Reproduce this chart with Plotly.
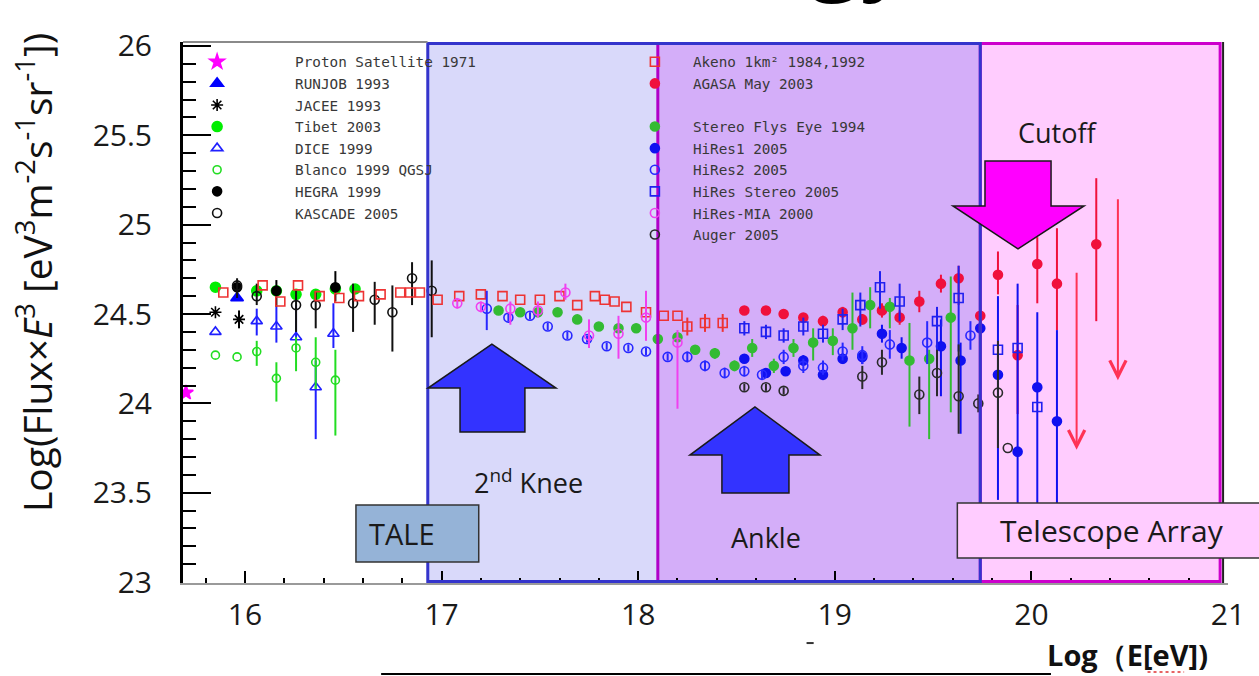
import plotly.graph_objects as go

# ---------------- measurements: x = log10(E/eV), y = log10(flux x E^3) ----------------
proton_x = [15.70]
proton_y = [24.06]

runjob_x = [15.96]
runjob_y = [24.59]

jacee_x = [15.85, 15.97]
jacee_y = [24.51, 24.47]
jacee_up = [0.0, 0.05]
jacee_dn = [0.0, 0.05]

tibet_x = [15.85, 16.06, 16.16, 16.26, 16.36, 16.46, 16.56]
tibet_y = [24.65, 24.63, 24.63, 24.61, 24.61, 24.64, 24.64]

dice_x = [15.85, 16.06, 16.16, 16.26, 16.36, 16.45]
dice_y = [24.40, 24.46, 24.43, 24.37, 24.09, 24.39]
dice_up = [0.0, 0.07, 0.11, 0.18, 0.15, 0.17]
dice_dn = [0.0, 0.08, 0.09, 0.07, 0.29, 0.08]

blanco_x = [15.85, 15.96, 16.06, 16.16, 16.26, 16.36, 16.46]
blanco_y = [24.27, 24.26, 24.29, 24.14, 24.31, 24.23, 24.13]
blanco_up = [0.0, 0.0, 0.06, 0.09, 0.06, 0.14, 0.17]
blanco_dn = [0.0, 0.0, 0.08, 0.13, 0.13, 0.15, 0.31]

hegra_x = [15.96, 16.16, 16.46]
hegra_y = [24.65, 24.63, 24.65]
hegra_up = [0.04, 0.06, 0.09]
hegra_dn = [0.04, 0.09, 0.08]

kascade_x = [15.96, 16.06, 16.26, 16.36, 16.55, 16.66, 16.75, 16.85, 16.95]
kascade_y = [24.66, 24.60, 24.55, 24.55, 24.56, 24.58, 24.51, 24.70, 24.63]
kascade_up = [0.04, 0.07, 0.08, 0.08, 0.11, 0.10, 0.15, 0.09, 0.17]
kascade_dn = [0.07, 0.05, 0.15, 0.13, 0.16, 0.14, 0.22, 0.15, 0.26]

akeno_x = [15.89, 16.09, 16.18, 16.27, 16.38, 16.48, 16.58, 16.69, 16.79, 16.84, 16.89,
           16.98, 17.09, 17.20, 17.31, 17.40, 17.50, 17.60, 17.69, 17.78, 17.83, 17.88,
           17.94, 18.04, 18.13, 18.20, 18.25, 18.34, 18.43]
akeno_y = [24.62, 24.66, 24.57, 24.66, 24.60, 24.59, 24.60, 24.61, 24.62, 24.62, 24.62,
           24.58, 24.60, 24.61, 24.60, 24.58, 24.58, 24.60, 24.55, 24.60, 24.58, 24.57,
           24.54, 24.51, 24.49, 24.49, 24.43, 24.45, 24.45]
akeno_err = [0.0] * 26 + [0.05, 0.05, 0.05]

agasa_x = [18.54, 18.65, 18.74, 18.84, 18.94, 19.04, 19.14, 19.24, 19.33, 19.43, 19.54,
           19.63, 19.74, 19.83, 19.93, 20.03, 20.13, 20.33]
agasa_y = [24.52, 24.52, 24.50, 24.48, 24.46, 24.51, 24.47, 24.52, 24.48, 24.57, 24.67,
           24.70, 24.49, 24.72, 24.27, 24.78, 24.67, 24.89]
agasa_up = [0.02, 0.02, 0.02, 0.02, 0.03, 0.03, 0.03, 0.04, 0.04, 0.06, 0.05,
            0.07, 0.06, 0.13, 0.28, 0.15, 0.31, 0.37]
agasa_dn = [0.02, 0.02, 0.02, 0.02, 0.03, 0.03, 0.03, 0.04, 0.04, 0.06, 0.05,
            0.15, 0.06, 0.11, 0.33, 0.22, 0.26, 0.43]
# AGASA 90% upper limits (bar top -> arrow tip)
agasa_ul_x = [20.23, 20.44]
agasa_ul_top = [24.74, 25.15]
agasa_ul_tip = [23.74, 24.13]

fly_x = [17.29, 17.40, 17.49, 17.59, 17.69, 17.80, 17.90, 17.99, 18.10, 18.20, 18.29, 18.39,
         18.49, 18.58, 18.69, 18.79, 18.89, 18.99, 19.09, 19.18, 19.28, 19.38, 19.48, 19.59]
fly_y = [24.52, 24.51, 24.51, 24.51, 24.47, 24.43, 24.42, 24.42, 24.36, 24.37, 24.30, 24.28,
         24.21, 24.31, 24.21, 24.31, 24.34, 24.35, 24.42, 24.55, 24.54, 24.24, 24.25, 24.48]
fly_up = [0.01, 0.01, 0.01, 0.01, 0.01, 0.01, 0.01, 0.01, 0.02, 0.02, 0.02, 0.03,
          0.03, 0.05, 0.04, 0.05, 0.08, 0.07, 0.20, 0.10, 0.05, 0.21, 0.05, 0.23]
fly_dn = [0.01, 0.01, 0.01, 0.01, 0.01, 0.01, 0.01, 0.01, 0.02, 0.02, 0.02, 0.03,
          0.03, 0.05, 0.04, 0.05, 0.10, 0.08, 0.12, 0.13, 0.12, 0.37, 0.45, 0.53]

hires1_x = [18.54, 18.65, 18.75, 18.84, 18.94, 19.04, 19.14, 19.24, 19.34, 19.54, 19.64,
            19.74, 19.83, 19.93, 20.03, 20.13]
hires1_y = [24.25, 24.17, 24.18, 24.24, 24.16, 24.25, 24.26, 24.39, 24.31, 24.32, 24.24,
            24.42, 24.16, 23.73, 24.09, 23.90]
hires1_up = [0.02, 0.02, 0.02, 0.03, 0.03, 0.03, 0.04, 0.05, 0.06, 0.15, 0.10,
             0.05, 0.44, 0.94, 0.42, 0.51]
hires1_dn = [0.02, 0.02, 0.02, 0.03, 0.03, 0.03, 0.04, 0.05, 0.06, 0.28, 0.41,
             0.40, 0.70, 0.33, 0.69, 0.50]

hires2_x = [17.23, 17.34, 17.45, 17.54, 17.64, 17.74, 17.84, 17.95, 18.04, 18.15, 18.25, 18.34,
            18.44, 18.54, 18.63, 18.74, 18.84, 18.94, 19.04, 19.14, 19.28, 19.47, 19.69]
hires2_y = [24.53, 24.48, 24.49, 24.43, 24.38, 24.36, 24.32, 24.31, 24.29, 24.26, 24.26, 24.21,
            24.17, 24.18, 24.16, 24.26, 24.21, 24.20, 24.29, 24.27, 24.33, 24.34, 24.38]
hires2_up = [0.10, 0.02, 0.02, 0.02, 0.02, 0.02, 0.02, 0.02, 0.02, 0.02, 0.03, 0.03,
             0.03, 0.03, 0.03, 0.04, 0.04, 0.04, 0.05, 0.05, 0.08, 0.12, 0.08]
hires2_dn = [0.12, 0.02, 0.02, 0.02, 0.02, 0.02, 0.02, 0.02, 0.02, 0.02, 0.03, 0.03,
             0.03, 0.03, 0.03, 0.04, 0.04, 0.04, 0.05, 0.05, 0.08, 0.12, 0.08]

stereo_x = [18.54, 18.65, 18.74, 18.84, 18.94, 19.04, 19.13, 19.23, 19.33, 19.52, 19.63,
            19.83, 19.93, 20.03]
stereo_y = [24.42, 24.40, 24.38, 24.43, 24.39, 24.47, 24.55, 24.65, 24.57, 24.46, 24.59,
            24.30, 24.31, 23.98]
stereo_up = [0.04, 0.04, 0.04, 0.05, 0.05, 0.06, 0.07, 0.09, 0.10, 0.08, 0.18, 0.0, 0.0, 0.0]
stereo_dn = [0.04, 0.04, 0.04, 0.05, 0.05, 0.06, 0.12, 0.12, 0.11, 0.30, 0.30, 0.0, 0.0, 0.0]

mia_x = [17.08, 17.20, 17.35, 17.49, 17.63, 17.75, 17.90, 18.04, 18.20]
mia_y = [24.56, 24.54, 24.53, 24.52, 24.62, 24.38, 24.39, 24.48, 24.34]
mia_up = [0.03, 0.03, 0.04, 0.05, 0.05, 0.09, 0.10, 0.15, 0.07]
mia_dn = [0.03, 0.03, 0.09, 0.04, 0.04, 0.07, 0.14, 0.13, 0.37]

auger_x = [18.54, 18.65, 18.74, 19.14, 19.24, 19.43, 19.52, 19.63, 19.73, 19.83, 19.88]
auger_y = [24.09, 24.09, 24.07, 24.15, 24.23, 24.05, 24.17, 24.04, 24.00, 24.06, 23.75]
auger_up = [0.02, 0.02, 0.02, 0.06, 0.07, 0.10, 0.13, 0.29, 0.05, 0.29, 0.0]
auger_dn = [0.02, 0.02, 0.02, 0.07, 0.07, 0.11, 0.13, 0.21, 0.05, 0.31, 0.0]

x_ticks = [16, 17, 18, 19, 20, 21]

# energy regions: (start, end) in log10(E/eV)
tale_band = (16.93, 18.10)
ankle_band = (18.10, 19.74)
ta_band = (19.74, 20.96)
frame_right = 20.975

fig = go.Figure()


def add_series(name, x, y, color, symbol, size, legend, up=None, dn=None, lw=1.6):
    err = None
    if up is not None:
        err = dict(type="data", array=up, arrayminus=dn, visible=True,
                   color=color, thickness=2, width=0)
    fig.add_trace(go.Scatter(
        x=x, y=y, mode="markers", name=name, legend=legend,
        marker=dict(symbol=symbol, size=size, color=color,
                    line=dict(color=color, width=lw)),
        error_y=err, cliponaxis=True, hoverinfo="x+y+name"))


# left legend column
add_series("Proton Satellite 1971", proton_x, proton_y, "#FF00FF", "star", 11, "legend")
add_series("RUNJOB 1993", runjob_x, runjob_y, "#0000FF", "triangle-up", 11, "legend")
add_series("JACEE 1993", jacee_x, jacee_y, "#000000", "asterisk-open", 10, "legend",
           jacee_up, jacee_dn)
add_series("Tibet 2003", tibet_x, tibet_y, "#00EE00", "circle", 10, "legend")
add_series("DICE 1999", dice_x, dice_y, "#2020FF", "triangle-up-open", 10, "legend",
           dice_up, dice_dn)
add_series("Blanco 1999 QGSJ", blanco_x, blanco_y, "#22DD22", "circle-open", 8, "legend",
           blanco_up, blanco_dn)
add_series("HEGRA 1999", hegra_x, hegra_y, "#000000", "circle", 9, "legend",
           hegra_up, hegra_dn)
add_series("KASCADE 2005", kascade_x, kascade_y, "#111111", "circle-open", 9, "legend",
           kascade_up, kascade_dn)

# right legend column
add_series("Akeno 1km² 1984,1992", akeno_x, akeno_y, "#EE3333", "square-open", 9, "legend2",
           akeno_err, akeno_err)
add_series("AGASA May 2003", agasa_x, agasa_y, "#F0103C", "circle", 9, "legend2",
           agasa_up, agasa_dn)
fig.add_trace(go.Scatter(x=[None], y=[None], mode="markers", name=" ", legend="legend2",
                         marker=dict(color="rgba(0,0,0,0)", size=1), hoverinfo="skip"))
add_series("Stereo Flys Eye 1994", fly_x, fly_y, "#33BB33", "circle", 9, "legend2",
           fly_up, fly_dn)
add_series("HiRes1 2005", hires1_x, hires1_y, "#1010F0", "circle", 9, "legend2",
           hires1_up, hires1_dn)
add_series("HiRes2 2005", hires2_x, hires2_y, "#2828FF", "circle-open", 9, "legend2",
           hires2_up, hires2_dn)
add_series("HiRes Stereo 2005", stereo_x, stereo_y, "#2020F0", "square-open", 9, "legend2",
           stereo_up, stereo_dn)
add_series("HiRes-MIA 2000", mia_x, mia_y, "#F040F0", "circle-open", 9, "legend2",
           mia_up, mia_dn)
add_series("Auger 2005", auger_x, auger_y, "#2a2a2a", "circle-open", 9, "legend2",
           auger_up, auger_dn)

# AGASA upper limits drawn as downward arrows
for ux, top, tip in zip(agasa_ul_x, agasa_ul_top, agasa_ul_tip):
    fig.add_annotation(x=ux, y=tip, ax=ux, ay=top, xref="x", yref="y", axref="x", ayref="y",
                       showarrow=True, arrowhead=5, arrowsize=1.6, arrowwidth=2,
                       arrowcolor="#FF3355", text="", standoff=0)

# ---------------- shaded energy regions ----------------
band_style = [
    (tale_band, "#D9D9FA"),
    (ankle_band, "#D4AEF9"),
    (ta_band, "#FFCCFE"),
]
for (x0, x1), fill in band_style:
    fig.add_shape(type="rect", xref="x", yref="paper", x0=x0, x1=x1, y0=0, y1=1,
                  fillcolor=fill, line=dict(width=0), layer="below")

fig.add_shape(type="rect", xref="x", yref="paper", x0=ta_band[0], x1=ta_band[1],
              y0=0.003, y1=0.997, line=dict(color="#CC00CC", width=3), layer="above")
fig.add_shape(type="line", xref="x", yref="paper", x0=ankle_band[0], x1=ankle_band[0],
              y0=0.003, y1=0.997, line=dict(color="#B000C8", width=3), layer="above")
fig.add_shape(type="rect", xref="x", yref="paper", x0=tale_band[0], x1=ankle_band[1],
              y0=0.003, y1=0.997, line=dict(color="#3434CC", width=3), layer="above")

# frame pieces of the original plot
fig.add_shape(type="line", xref="paper", yref="paper", x0=0, x1=0.234, y0=1, y1=1,
              line=dict(color="#8a8a8a", width=2))
fig.add_shape(type="line", xref="x", yref="paper", x0=frame_right, x1=frame_right, y0=0, y1=1,
              line=dict(color="#222222", width=2), layer="above")

# ---------------- block arrows ----------------
arrow_knee = ("M 17.094,23.840 L 17.094,24.086 L 16.931,24.086 L 17.256,24.332 "
              "L 17.582,24.086 L 17.424,24.086 L 17.424,23.840 Z")
arrow_ankle = ("M 18.426,23.499 L 18.426,23.711 L 18.263,23.711 L 18.594,23.980 "
               "L 18.925,23.711 L 18.767,23.711 L 18.767,23.499 Z")
arrow_cutoff = ("M 19.764,25.356 L 20.100,25.356 L 20.100,25.105 L 20.268,25.105 "
                "L 19.932,24.864 L 19.601,25.105 L 19.764,25.105 Z")
for path, fill in [(arrow_knee, "#3333FF"), (arrow_ankle, "#3333FF"), (arrow_cutoff, "#FF00FF")]:
    fig.add_shape(type="path", xref="x", yref="y", path=path, fillcolor=fill,
                  line=dict(color="#1a1a1a", width=1.5), layer="above")

# ---------------- labelled boxes ----------------
fig.add_shape(type="rect", xref="paper", yref="paper", x0=0.1655, x1=0.283, y0=0.039, y1=0.144,
              fillcolor="#95B3D7", line=dict(color="#333333", width=1.5), layer="above")
fig.add_shape(type="rect", xref="paper", yref="paper", x0=0.741, x1=1.04, y0=0.046, y1=0.148,
              fillcolor="#FFCCFF", line=dict(color="#333333", width=1.5), layer="above")

txt_font = dict(family="Open Sans", size=27, color="#1a1a1a")
box_font = dict(family="Open Sans", size=30, color="#1a1a1a")


def label(text, x, y, font, xanchor="center", **kw):
    fig.add_annotation(x=x, y=y, xref="paper", yref="paper", xanchor=xanchor,
                       yanchor="middle", text=text, showarrow=False, font=font, **kw)


label("TALE", 0.1761, 0.092, dict(family="Open Sans", size=29, color="#1a1a1a"), xanchor="left")
label("Telescope Array", 0.8893, 0.097, box_font)
label("2<sup>nd</sup> Knee", 0.3311, 0.187, txt_font)
label("Ankle", 0.5582, 0.085, txt_font)
label("Cutoff", 0.8364, 0.832, txt_font)

# axis titles
label("Log(Flux×<i>E</i><sup>3</sup> [eV<sup>3</sup>m<sup>-2</sup>s<sup>-1</sup>sr<sup>-1</sup>])",
      -0.142, 0.574, dict(family="Open Sans", size=39, color="#111111"), textangle=-90)
label("<b>Log（E[eV])</b>", 0.9038, -0.133, dict(family="Open Sans", size=29, color="#111111"))
fig.add_shape(type="line", xref="paper", yref="paper", x0=0.923, x1=0.958, y0=-0.1645, y1=-0.1645,
              line=dict(color="#E03030", width=1.5, dash="dot"))

# slide fragments around the chart
fig.add_annotation(x=0.6487, y=1.057, xref="paper", yref="paper", xanchor="center",
                   yanchor="bottom", text="gy", showarrow=False,
                   font=dict(family="Open Sans", size=100, color="#000000"))
fig.add_shape(type="line", xref="paper", yref="paper", x0=0.1896, x1=0.8306, y0=-0.168, y1=-0.168,
              line=dict(color="#000000", width=2))
fig.add_shape(type="line", xref="paper", yref="paper", x0=0.5967, x1=0.6035, y0=-0.111, y1=-0.111,
              line=dict(color="#333333", width=2))

axis_font = dict(family="Open Sans", size=30, color="#1a1a1a")
fig.update_xaxes(range=[15.685, 21.0], tickvals=x_ticks, ticks="inside", ticklen=12,
                 tickwidth=2, tickcolor="#000000",
                 minor=dict(dtick=0.2, tick0=16, ticks="inside", ticklen=5, tickwidth=1.5,
                            tickcolor="#000000"),
                 showline=True, linecolor="#9a9a9a", linewidth=2, showgrid=False, zeroline=False,
                 tickfont=axis_font, ticklabelstandoff=4)
fig.update_yaxes(range=[22.995, 26.022], tick0=23, dtick=0.5, ticks="inside", ticklen=28,
                 tickwidth=2, tickcolor="#000000",
                 minor=dict(dtick=0.1, tick0=23, ticks="inside", ticklen=13, tickwidth=1.5,
                            tickcolor="#000000"),
                 showline=True, linecolor="#000000", linewidth=3, showgrid=False, zeroline=False,
                 tickfont=axis_font, ticklabelstandoff=22)

legend_font = dict(family="DejaVu Sans Mono", size=14.3, color="#383838")
fig.update_layout(
    width=1259, height=676,
    margin=dict(l=183, r=31, t=42, b=93),
    paper_bgcolor="#FFFFFF", plot_bgcolor="#FFFFFF",
    showlegend=True,
    legend=dict(x=-0.0420, y=0.9926, xanchor="left", yanchor="top", bgcolor="rgba(0,0,0,0)",
                font=legend_font, itemwidth=146, tracegroupgap=0, itemclick=False,
                itemdoubleclick=False),
    legend2=dict(x=0.4152, y=0.9926, xanchor="left", yanchor="top", bgcolor="rgba(0,0,0,0)",
                 font=legend_font, itemwidth=66, tracegroupgap=0, itemclick=False,
                 itemdoubleclick=False),
)

fig.write_html("out.html")
